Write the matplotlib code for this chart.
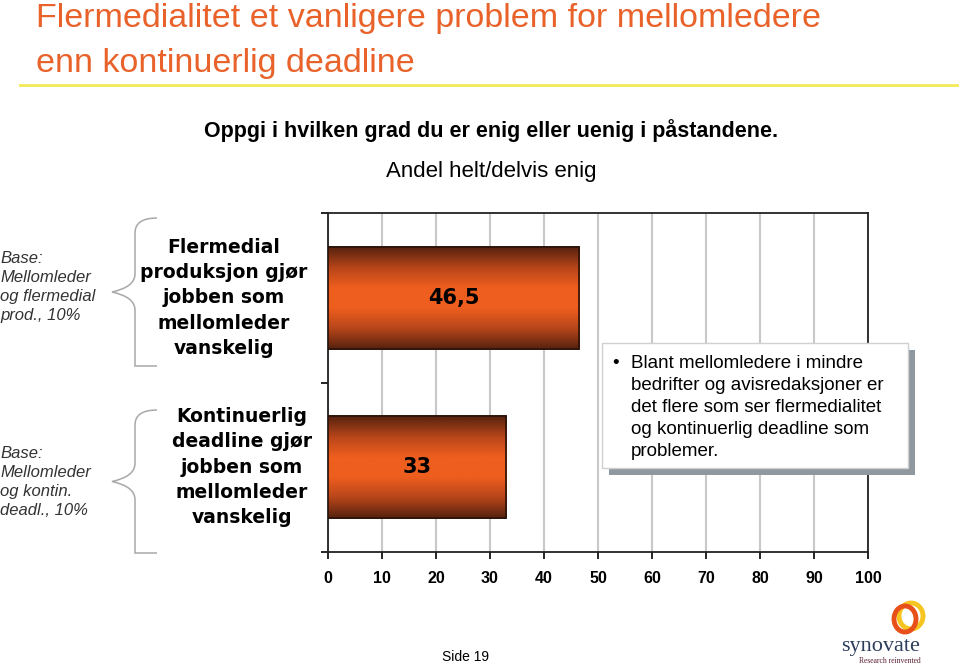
import numpy as np
import matplotlib.pyplot as plt
import matplotlib.transforms as mtransforms
from matplotlib.path import Path
from matplotlib.patches import PathPatch, Rectangle, Ellipse
from matplotlib.colors import LinearSegmentedColormap

#%% data
categories = ["Flermedial\nproduksjon gjør\njobben som\nmellomleder\nvanskelig",
              "Kontinuerlig\ndeadline gjør\njobben som\nmellomleder\nvanskelig"]
values = [46.5, 33]
value_labels = ["46,5", "33"]
bases = ["Base:\nMellomleder\nog flermedial\nprod., 10%",
         "Base:\nMellomleder\nog kontin.\ndeadl., 10%"]
xticks = [0, 10, 20, 30, 40, 50, 60, 70, 80, 90, 100]

title = "Flermedialitet et vanligere problem for mellomledere\nenn kontinuerlig deadline"
question = "Oppgi i hvilken grad du er enig eller uenig i påstandene."
subtitle = "Andel helt/delvis enig"
note = ("Blant mellomledere i mindre\nbedrifter og avisredaksjoner er\n"
        "det flere som ser flermedialitet\nog kontinuerlig deadline som\nproblemer.")

W, H = 959, 668
def px(x, y):
    # pixel position -> figure fraction
    return x / W, 1 - y / H

fig = plt.figure(figsize=(W / 100, H / 100), dpi=100)

#%% title area
fig.text(*px(36, 41), title, color="#e8622a", fontsize=24.5, family="Liberation Sans",
         ha="left", va="center", linespacing=1.55)
fig.add_artist(plt.Line2D([20 / W, 1], [1 - 85 / H] * 2, color="#f2ea55", lw=2,
                          transform=fig.transFigure))
fig.text(*px(491, 131), question, fontsize=15.5, weight="bold",
         family="Liberation Sans", ha="center", va="center")
fig.text(*px(491, 172), subtitle, fontsize=16,
         family="Liberation Sans", ha="center", va="center")

#%% chart
ax = fig.add_axes([328 / W, 1 - 552 / H, 540 / W, 339 / H])
ypos = np.arange(len(values))
bars = ax.barh(ypos, values, height=0.6, color="#e8581a", edgecolor="#2a1208", lw=1.2, zorder=3)

# horizontal shading of the bars: dark edges, orange middle
shade = LinearSegmentedColormap.from_list(
    "shade", [(0, "#5a230f"), (0.2, "#b9461a"), (0.4, "#ee5e1e"),
              (0.6, "#ee5e1e"), (0.8, "#b9461a"), (1, "#5a230f")])
grad = np.linspace(0, 1, 64).reshape(-1, 1)
for i, b in enumerate(bars):
    x0, y0, w, h = b.get_x(), b.get_y(), b.get_width(), b.get_height()
    im = ax.imshow(grad, cmap=shade, aspect="auto", extent=(x0, x0 + w, y0 + h, y0),
                   zorder=3.5, interpolation="bilinear")
    im.set_clip_path(b)
    ax.add_patch(Rectangle((x0, y0), w, h, fill=False, ec="#2a1208", lw=1.2, zorder=4))
    ax.text(x0 + w / 2, y0 + h / 2, value_labels[i], ha="center",
            va="center", fontsize=15, weight="bold", family="DejaVu Sans", zorder=5)

ax.set_xlim(0, 100)
ax.set_ylim(len(values) - 0.5, -0.5)
ax.set_xticks(xticks)
ax.set_xticklabels([str(t) for t in xticks], fontsize=11.5, weight="bold", family="Liberation Sans")
ax.set_yticks([-0.5, 0.5, 1.5])
ax.set_yticklabels([])
ax.tick_params(axis="x", direction="out", length=5, width=1.2, pad=9)
ax.tick_params(axis="y", direction="out", length=5, width=1.2)
ax.grid(axis="x", color="#c8c8c8", lw=1.5, zorder=0)
ax.set_axisbelow(True)
for s in ax.spines.values():
    s.set_color("#222222")
    s.set_linewidth(1.3)

# category labels beside each bar
lab_tr = mtransforms.blended_transform_factory(fig.transFigure, ax.transData)
label_x = [224, 242]
for i, c in enumerate(categories):
    ax.text(label_x[i] / W, ypos[i], c, transform=lab_tr, ha="center", va="center",
            fontsize=13.5, weight="bold", family="DejaVu Sans", linespacing=1.42)

#%% left side bases and braces
base_y = [287, 482]
for i, b in enumerate(bases):
    fig.text(*px(0, base_y[i]), b, fontsize=12, style="italic", color="#333333",
             family="Liberation Sans", ha="left", va="center", linespacing=1.36)

def brace(top, bot, xr=157, xm=135, xt=112):
    mid = (top + bot) / 2
    pts = [(xr, top), (xm, top), (xm, top + 15), (xm, top + 20),
           (xm, mid - 18), (xm, mid - 5), (xt, mid),
           (xm, mid + 5), (xm, mid + 18), (xm, bot - 20),
           (xm, bot - 15), (xm, bot), (xr, bot)]
    codes = [Path.MOVETO, Path.CURVE3, Path.CURVE3, Path.LINETO,
             Path.LINETO, Path.CURVE3, Path.CURVE3,
             Path.CURVE3, Path.CURVE3, Path.LINETO,
             Path.CURVE3, Path.CURVE3, Path.LINETO]
    verts = [px(x, y) for x, y in pts]
    fig.add_artist(PathPatch(Path(verts, codes), fill=False, ec="#a8a8a8", lw=1.1,
                             transform=fig.transFigure))

brace(218, 366)
brace(410, 553)

#%% note box with shadow
fig.add_artist(Rectangle(px(609, 475), 306 / W, 125 / H, transform=fig.transFigure,
                         fc="#8f979f", ec="none", zorder=5))
fig.add_artist(Rectangle(px(602, 468), 306 / W, 125 / H, transform=fig.transFigure,
                         fc="white", ec="#d0d0d0", lw=1, zorder=6))
fig.text(*px(612, 355), "•", fontsize=13.5, family="Liberation Sans", ha="left",
         va="top", zorder=7)
fig.text(*px(631, 355), note, fontsize=13.5, family="Liberation Sans", ha="left",
         va="top", linespacing=1.38, zorder=7)

#%% footer
fig.text(*px(466, 657), "Side 19", fontsize=10, family="Liberation Sans", ha="center", va="center")
fig.add_artist(Ellipse(px(911, 616), 24 / W, 26 / H, transform=fig.transFigure, fill=False,
                       ec="#f7c520", lw=3.5))
fig.add_artist(Ellipse(px(905, 619), 22 / W, 26 / H, transform=fig.transFigure, fill=False,
                       ec="#e8501a", lw=3.5))
fig.text(*px(881, 646), "synovate", fontsize=16, family="Liberation Serif", color="#2d3e5c",
         ha="center", va="center")
fig.text(*px(890, 661), "Research reinvented", fontsize=5.5, family="Liberation Serif",
         color="#5a2030", ha="center", va="center")

fig.savefig("out.png", dpi=100)
